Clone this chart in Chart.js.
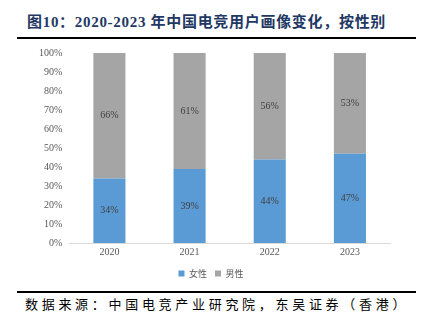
<!DOCTYPE html>
<html>
<head>
<meta charset="utf-8">
<script src="https://cdn.jsdelivr.net/npm/chart.js@4"></script>
<style>
  body { margin: 0; width: 425px; height: 325px; background: #fff; position: relative; overflow: hidden; }
  #title { position: absolute; left: 27px; top: 10px; font: bold 15px "Liberation Serif", "Noto Sans CJK SC", serif; color: #1f3864; white-space: nowrap; letter-spacing: 0.7px; }
  #rule1 { position: absolute; left: 17px; top: 37px; width: 399px; height: 2px; background: #000; }
  #wrap { position: absolute; left: 0; top: 40px; width: 425px; height: 248px; }
  #rule2 { position: absolute; left: 17px; top: 291px; width: 399px; height: 2px; background: #000; }
  #source { position: absolute; left: 25px; top: 294px; font: 13px "Noto Sans CJK SC", sans-serif; color: #000; white-space: nowrap; letter-spacing: 3.7px; }
</style>
</head>
<body>
<div id="title">图10：2020-2023 年中国电竞用户画像变化，按性别</div>
<div id="rule1"></div>
<div id="wrap"><canvas id="chart"></canvas></div>
<div id="rule2"></div>
<div id="source">数据来源：中国电竞产业研究院，东吴证券（香港）</div>
<script>
// --- Data ---
const years = ['2020', '2021', '2022', '2023'];
const female = [34, 39, 44, 47];
const male = [66, 61, 56, 53];
const yTicks = [0, 10, 20, 30, 40, 50, 60, 70, 80, 90, 100];

const labelFont = { family: '"Liberation Serif", "Times New Roman", serif', size: 10 };

// draws the % values in the middle of each segment
const valueLabels = {
    id: 'valueLabels',
    afterDatasetsDraw(chart) {
        const ctx = chart.ctx;
        ctx.save();
        ctx.font = '10px "Liberation Serif", serif';
        ctx.fillStyle = '#404040';
        ctx.textAlign = 'center';
        ctx.textBaseline = 'middle';
        chart.data.datasets.forEach((ds, i) => {
            chart.getDatasetMeta(i).data.forEach((bar, j) => {
                const mid = (bar.y + bar.base) / 2;
                ctx.fillText(ds.data[j] + '%', bar.x, mid);
            });
        });
        ctx.restore();
    }
};

new Chart(document.getElementById('chart'), {
    type: 'bar',
    data: {
        labels: years,
        datasets: [
            { label: '女性', data: female, backgroundColor: '#5b9bd5' },
            { label: '男性', data: male, backgroundColor: '#a5a5a5' }
        ]
    },
    options: {
        responsive: true,
        maintainAspectRatio: false,
        animation: false,
        layout: { padding: { left: 32, right: 35, top: 7, bottom: 0 } },
        datasets: { bar: { categoryPercentage: 0.4, barPercentage: 1 } },
        scales: {
            x: {
                stacked: true,
                grid: { display: false, drawTicks: false },
                border: { color: '#d9d9d9' },
                ticks: { color: '#595959', font: labelFont, padding: 3 }
            },
            y: {
                stacked: true,
                min: 0,
                max: 100,
                afterBuildTicks: axis => { axis.ticks = yTicks.map(v => ({ value: v })); },
                grid: { display: false, drawTicks: false },
                border: { display: false },
                ticks: { color: '#595959', font: labelFont, padding: 7, callback: v => v + '%' }
            }
        },
        plugins: {
            legend: {
                position: 'bottom',
                labels: {
                    boxWidth: 6, boxHeight: 6, padding: 8,
                    color: '#595959',
                    font: { family: '"Noto Sans CJK SC", sans-serif', size: 9 }
                }
            },
            tooltip: { enabled: false }
        }
    },
    plugins: [valueLabels]
});
</script>
</body>
</html>
